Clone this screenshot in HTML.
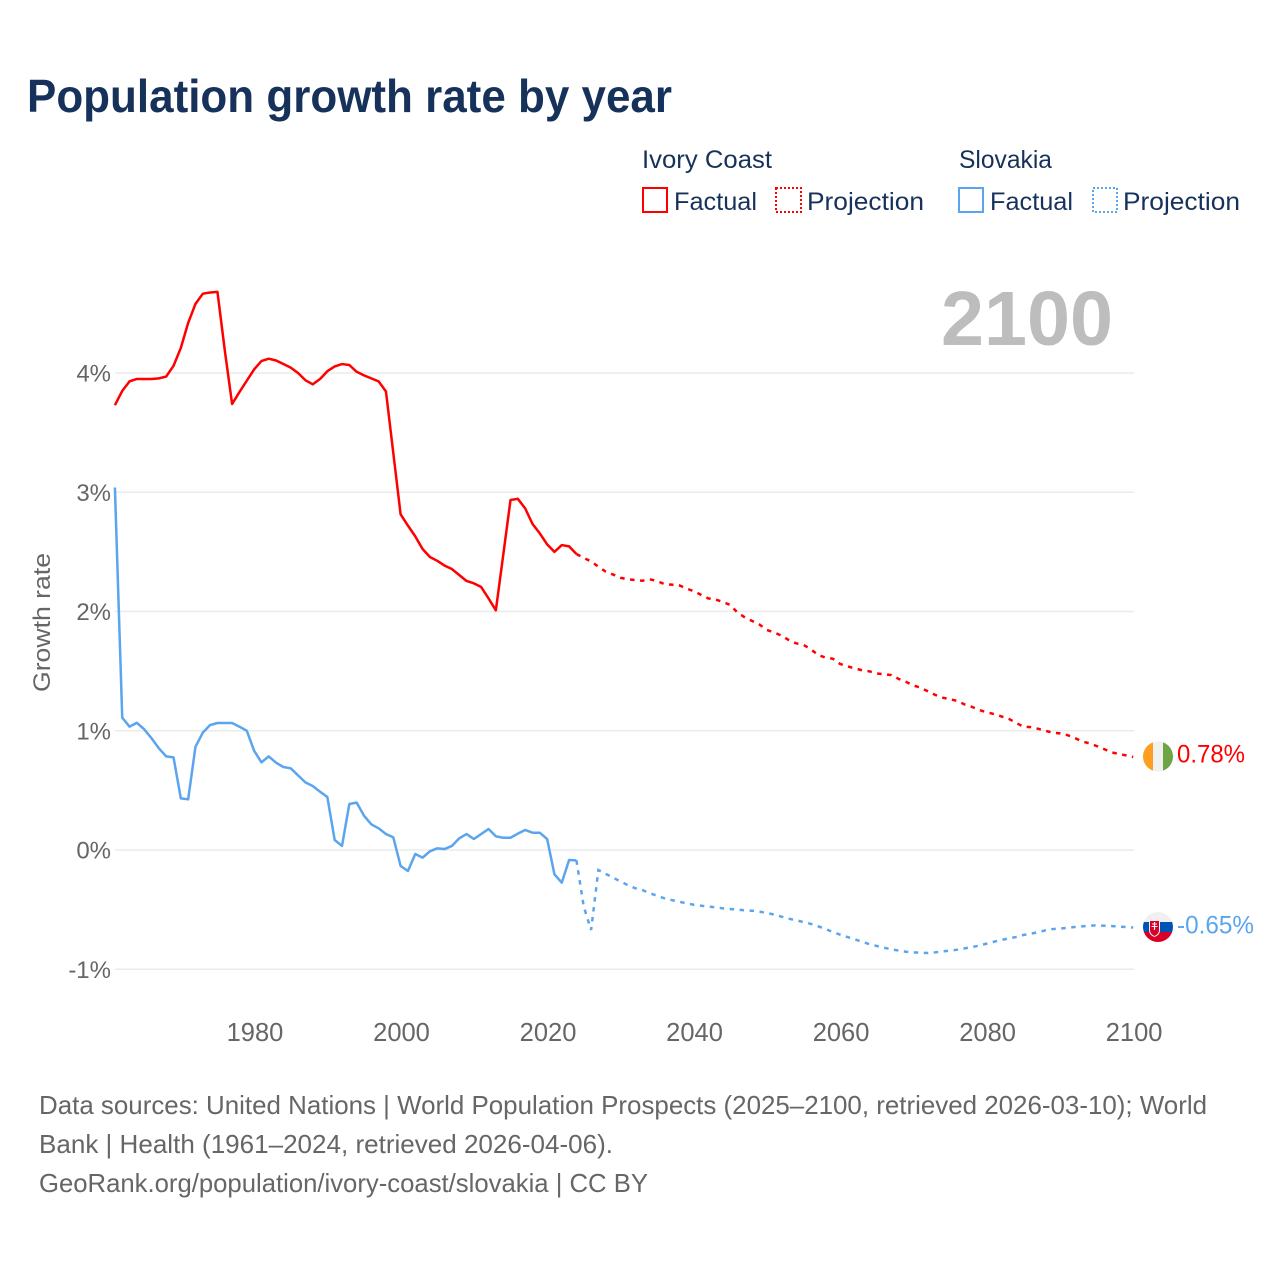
<!DOCTYPE html>
<html lang="en">
<head>
<meta charset="utf-8">
<title>Population growth rate by year</title>
<style>
  html, body { margin: 0; padding: 0; background: #fff; }
  svg { display: block; font-family: "Liberation Sans", sans-serif; }
  .legend-text { fill: #17325a; font-size: 25px; }
  .foot { fill: #666; font-size: 26px; }
  .tick { fill: #666; }
</style>
</head>
<body>
<svg id="chart" xmlns="http://www.w3.org/2000/svg" width="1280" height="1280" viewBox="0 0 1280 1280">
  <rect x="0" y="0" width="1280" height="1280" fill="#fff"/>
  <text x="27" y="112" font-size="46" font-weight="700" fill="#17325a" textLength="645" lengthAdjust="spacingAndGlyphs">Population growth rate by year</text>

  <g>
    <text class="legend-text" x="642" y="168" textLength="130" lengthAdjust="spacingAndGlyphs">Ivory Coast</text>
    <text class="legend-text" x="959" y="168" textLength="93" lengthAdjust="spacingAndGlyphs">Slovakia</text>

    <g>
      <rect x="643" y="188" width="24" height="24" fill="none" stroke="#ff0000" stroke-width="2"/>
      <text class="legend-text" x="674" y="210" textLength="83" lengthAdjust="spacingAndGlyphs">Factual</text>
    </g>
    <g>
      <rect x="776" y="188" width="25" height="24" fill="none" stroke="#ff0000" stroke-width="2" stroke-dasharray="2 2"/>
      <text class="legend-text" x="807" y="210" textLength="117" lengthAdjust="spacingAndGlyphs">Projection</text>
    </g>
    <g>
      <rect x="959" y="188" width="24" height="24" fill="none" stroke="#5ba4ee" stroke-width="2"/>
      <text class="legend-text" x="990" y="210" textLength="83" lengthAdjust="spacingAndGlyphs">Factual</text>
    </g>
    <g>
      <rect x="1093" y="188" width="24" height="24" fill="none" stroke="#5ba4ee" stroke-width="2" stroke-dasharray="2 2"/>
      <text class="legend-text" x="1123" y="210" textLength="117" lengthAdjust="spacingAndGlyphs">Projection</text>
    </g>
  </g>

  <g id="grid"></g>
  <g id="yTicks"></g>
  <g id="xTicks"></g>

  <text x="941" y="345" font-size="77" font-weight="700" fill="#bdbdbd" textLength="172" lengthAdjust="spacingAndGlyphs">2100</text>

  <text transform="translate(50 692) rotate(-90)" x="0" y="0" font-size="24" fill="#666" textLength="139" lengthAdjust="spacingAndGlyphs">Growth rate</text>

  <g id="series"></g>

  <defs>
    <clipPath id="flagClip"><circle cx="0" cy="0" r="15"/></clipPath>
  </defs>

  <g id="flagIvory" clip-path="url(#flagClip)">
    <rect x="-15" y="-15" width="30" height="30" fill="#f0f0f0"/>
    <rect x="-15" y="-15" width="10" height="30" fill="#ff9f1f"/>
    <rect x="5" y="-15" width="10" height="30" fill="#6da544"/>
  </g>
  <g id="flagSlovakia" clip-path="url(#flagClip)">
    <rect x="-15" y="-15" width="30" height="10" fill="#f0f0f0"/>
    <rect x="-15" y="-5" width="30" height="10" fill="#0052b4"/>
    <rect x="-15" y="5" width="30" height="10" fill="#d80027"/>
    <path d="M-9 -7 H2 V3 Q2 8 -3.5 10 Q-9 8 -9 3 Z" fill="#f0f0f0"/>
    <path d="M-8 -6 H1 V3 Q1 7 -3.5 9 Q-8 7 -8 3 Z" fill="#d80027"/>
    <path d="M-4.1 -5 H-2.9 V-3.5 H-1 V-2.5 H-2.9 V-1 H-0.5 V0 H-2.9 V3 H-4.1 V0 H-6.5 V-1 H-4.1 V-2.5 H-6 V-3.5 H-4.1 Z" fill="#f0f0f0"/>
  </g>

  <text id="labelIvory" x="1177" font-size="25" fill="#ff0000" textLength="68" lengthAdjust="spacingAndGlyphs"></text>
  <text id="labelSlovakia" x="1177" font-size="25" fill="#5ba4ee" textLength="77" lengthAdjust="spacingAndGlyphs"></text>

  <g>
    <text class="foot" x="39" y="1114" textLength="1168" lengthAdjust="spacingAndGlyphs">Data sources: United Nations | World Population Prospects (2025–2100, retrieved 2026-03-10); World</text>
    <text class="foot" x="39" y="1153" textLength="574" lengthAdjust="spacingAndGlyphs">Bank | Health (1961–2024, retrieved 2026-04-06).</text>
    <text class="foot" x="39" y="1192" textLength="609" lengthAdjust="spacingAndGlyphs">GeoRank.org/population/ivory-coast/slovakia | CC BY</text>
  </g>
</svg>

<script>
const factualStartYear = 1961;
const projectionStartYear = 2024;

const yTickValues = [-1, 0, 1, 2, 3, 4];
const yTickLabels = ['-1%', '0%', '1%', '2%', '3%', '4%'];
const xTickValues = [1980, 2000, 2020, 2040, 2060, 2080, 2100];
const xTickLabels = ['1980', '2000', '2020', '2040', '2060', '2080', '2100'];
const endValueLabels = ['0.78%', '-0.65%'];

// 1961-2024
const ivoryFactual = [3.73,3.85,3.93,3.95,3.95,3.95,3.955,3.97,4.06,4.21,4.42,4.58,4.665,4.675,4.68,4.19,3.74,3.84,3.935,4.03,4.10,4.12,4.105,4.075,4.045,4.00,3.94,3.905,3.95,4.015,4.055,4.075,4.067,4.01,3.98,3.955,3.93,3.845,3.33,2.815,2.72,2.63,2.524,2.457,2.425,2.385,2.356,2.306,2.256,2.236,2.205,2.11,2.01,2.47,2.935,2.945,2.865,2.735,2.655,2.563,2.50,2.557,2.546,2.482];

// 2024-2100
const ivoryProjection = [2.482,2.45,2.42,2.376,2.334,2.31,2.283,2.27,2.264,2.258,2.27,2.256,2.23,2.225,2.22,2.194,2.17,2.14,2.11,2.10,2.08,2.054,1.99,1.95,1.92,1.89,1.845,1.825,1.797,1.76,1.733,1.72,1.683,1.635,1.613,1.604,1.56,1.54,1.523,1.507,1.498,1.48,1.473,1.467,1.434,1.41,1.38,1.36,1.33,1.30,1.277,1.264,1.25,1.22,1.2,1.174,1.155,1.14,1.12,1.10,1.067,1.034,1.03,1.017,1.0,0.984,0.978,0.964,0.94,0.91,0.895,0.872,0.847,0.82,0.805,0.794,0.78];

// 1961-2024
const slovakiaFactual = [3.04,1.11,1.034,1.067,1.012,0.937,0.853,0.785,0.777,0.433,0.425,0.866,0.984,1.048,1.065,1.065,1.065,1.034,1.0,0.833,0.735,0.785,0.732,0.696,0.685,0.626,0.567,0.537,0.489,0.444,0.084,0.034,0.386,0.397,0.288,0.215,0.182,0.134,0.106,-0.134,-0.176,-0.034,-0.064,-0.011,0.014,0.008,0.034,0.098,0.134,0.092,0.134,0.176,0.115,0.103,0.103,0.137,0.168,0.145,0.145,0.092,-0.204,-0.274,-0.084,-0.087];

// 2024-2100
const slovakiaProjection = [-0.087,-0.475,-0.671,-0.168,-0.2,-0.232,-0.263,-0.294,-0.32,-0.335,-0.363,-0.383,-0.405,-0.42,-0.433,-0.447,-0.459,-0.467,-0.475,-0.48,-0.49,-0.495,-0.5,-0.506,-0.509,-0.517,-0.528,-0.542,-0.559,-0.576,-0.59,-0.604,-0.62,-0.64,-0.662,-0.688,-0.71,-0.73,-0.749,-0.77,-0.79,-0.805,-0.819,-0.833,-0.844,-0.853,-0.858,-0.862,-0.864,-0.858,-0.85,-0.844,-0.836,-0.825,-0.813,-0.802,-0.785,-0.769,-0.755,-0.741,-0.73,-0.713,-0.702,-0.69,-0.674,-0.663,-0.66,-0.652,-0.646,-0.64,-0.635,-0.632,-0.635,-0.637,-0.643,-0.646,-0.65];

const SVGNS = 'http://www.w3.org/2000/svg';
const MARK_LEFT = 114.9, MARK_RIGHT = 1133.2;
const GRID_LEFT = 115, GRID_RIGHT = 1134;
const TICK_LABEL_SHIFT = 0.9;
const Y_ZERO = 850, Y_PER_UNIT = 119.25;

function xScale(year) {
  return MARK_LEFT + (year - 1961) * (MARK_RIGHT - MARK_LEFT) / (2100 - 1961);
}
function yScale(value) {
  return Y_ZERO - value * Y_PER_UNIT;
}
function pathFrom(startYear, values) {
  return values.map(function (v, i) {
    return (i ? 'L' : 'M') + xScale(startYear + i).toFixed(2) + ' ' + yScale(v).toFixed(2);
  }).join(' ');
}

const gridGroup = document.getElementById('grid');
const yTickGroup = document.getElementById('yTicks');
const xTickGroup = document.getElementById('xTicks');
const seriesGroup = document.getElementById('series');

yTickValues.forEach(function (v, i) {
  const line = document.createElementNS(SVGNS, 'line');
  
  
  line.setAttribute('x1', GRID_LEFT);
  line.setAttribute('x2', GRID_RIGHT);
  line.setAttribute('y1', yScale(v));
  line.setAttribute('y2', yScale(v));
  line.setAttribute('stroke', '#ebebeb');
  line.setAttribute('stroke-width', '1.5');
  gridGroup.appendChild(line);

  const t = document.createElementNS(SVGNS, 'text');
  
  
  t.setAttribute('class', 'tick');
  t.setAttribute('x', 111);
  t.setAttribute('y', yScale(v) + 8.5);
  t.setAttribute('text-anchor', 'end');
  t.setAttribute('font-size', '24');
  t.textContent = yTickLabels[i];
  yTickGroup.appendChild(t);
});

xTickValues.forEach(function (year, i) {
  const t = document.createElementNS(SVGNS, 'text');
  
  
  t.setAttribute('class', 'tick');
  t.setAttribute('x', xScale(year) + TICK_LABEL_SHIFT);
  t.setAttribute('y', 1041);
  t.setAttribute('text-anchor', 'middle');
  t.setAttribute('font-size', '25.5');
  t.textContent = xTickLabels[i];
  xTickGroup.appendChild(t);
});

const ivoryFactualLine = document.createElementNS(SVGNS, 'path');


ivoryFactualLine.setAttribute('d', pathFrom(factualStartYear, ivoryFactual));
ivoryFactualLine.setAttribute('fill', 'none');
ivoryFactualLine.setAttribute('stroke', '#ff0000');
ivoryFactualLine.setAttribute('stroke-width', '2.5');
ivoryFactualLine.setAttribute('stroke-linejoin', 'round');
seriesGroup.appendChild(ivoryFactualLine);

const ivoryProjectionLine = document.createElementNS(SVGNS, 'path');


ivoryProjectionLine.setAttribute('d', pathFrom(projectionStartYear, ivoryProjection));
ivoryProjectionLine.setAttribute('fill', 'none');
ivoryProjectionLine.setAttribute('stroke', '#ff0000');
ivoryProjectionLine.setAttribute('stroke-width', '2.5');
ivoryProjectionLine.setAttribute('stroke-dasharray', '4.5 5.5');
seriesGroup.appendChild(ivoryProjectionLine);

const slovakiaFactualLine = document.createElementNS(SVGNS, 'path');


slovakiaFactualLine.setAttribute('d', pathFrom(factualStartYear, slovakiaFactual));
slovakiaFactualLine.setAttribute('fill', 'none');
slovakiaFactualLine.setAttribute('stroke', '#5ba4ee');
slovakiaFactualLine.setAttribute('stroke-width', '2.5');
slovakiaFactualLine.setAttribute('stroke-linejoin', 'round');
seriesGroup.appendChild(slovakiaFactualLine);

const slovakiaProjectionLine = document.createElementNS(SVGNS, 'path');


slovakiaProjectionLine.setAttribute('d', pathFrom(projectionStartYear, slovakiaProjection));
slovakiaProjectionLine.setAttribute('fill', 'none');
slovakiaProjectionLine.setAttribute('stroke', '#5ba4ee');
slovakiaProjectionLine.setAttribute('stroke-width', '2.5');
slovakiaProjectionLine.setAttribute('stroke-dasharray', '4.5 5.5');
seriesGroup.appendChild(slovakiaProjectionLine);

const ivoryEndY = yScale(ivoryProjection[ivoryProjection.length - 1]);
const slovakiaEndY = yScale(slovakiaProjection[slovakiaProjection.length - 1]);

document.getElementById('flagIvory').setAttribute('transform', 'translate(1158 ' + (ivoryEndY - 0.5) + ')');
document.getElementById('flagSlovakia').setAttribute('transform', 'translate(1158 ' + (slovakiaEndY - 0.5) + ')');

const labelIvory = document.getElementById('labelIvory');
labelIvory.setAttribute('y', ivoryEndY + 5.5);
labelIvory.textContent = endValueLabels[0];

const labelSlovakia = document.getElementById('labelSlovakia');
labelSlovakia.setAttribute('y', slovakiaEndY + 6);
labelSlovakia.textContent = endValueLabels[1];
</script>
</body>
</html>
